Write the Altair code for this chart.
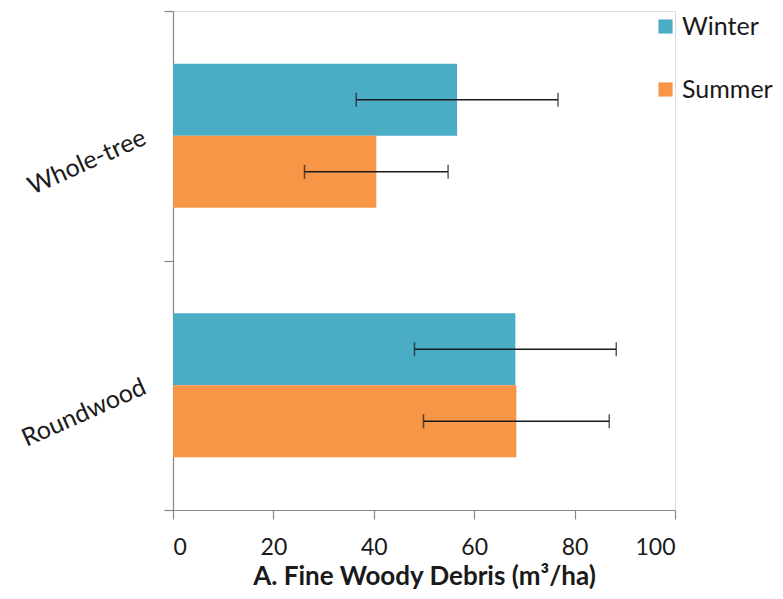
import altair as alt
import pandas as pd

treatments = ["Whole-tree", "Whole-tree", "Roundwood", "Roundwood"]
seasons = ["Winter", "Summer", "Winter", "Summer"]
means = [56.6, 40.5, 68.2, 68.4]
errors = [20.1, 14.3, 20.1, 18.5]
x_ticks = [0, 20, 40, 60, 80, 100]
treat_order = ["Whole-tree", "Roundwood"]
season_order = ["Winter", "Summer"]
season_colors = ["#4BACC6", "#F79646"]

df = pd.DataFrame({"treatment": treatments, "season": seasons, "mean": means, "err": errors})
df["lo"] = df["mean"] - df["err"]
df["hi"] = df["mean"] + df["err"]

FONT = "Lato"
AXIS_COLOR = "#868686"
TEXT = "#1a1a1a"

y_enc = alt.Y(
    "treatment:N",
    sort=treat_order,
    scale=alt.Scale(paddingInner=0, paddingOuter=0),
    axis=alt.Axis(
        title=None, tickBand="extent", labelAngle=-24, labelAlign="right",
        labelBaseline="middle", tickSize=9, labelPadding=20, labelFontSize=25,
        labelFont=FONT, labelColor=TEXT, domainColor=AXIS_COLOR, tickColor=AXIS_COLOR,
        domainWidth=1.2, tickWidth=1.2,
    ),
)
yoff_enc = alt.YOffset("season:N", sort=season_order,
                       scale=alt.Scale(paddingInner=0, paddingOuter=0.731))

x_axis = alt.Axis(
    values=x_ticks, title="A. Fine Woody Debris (m³/ha)", grid=False, tickSize=9,
    labelFontSize=23, labelFont=FONT, labelColor=TEXT, labelPadding=17,
    titleFont=FONT, titleFontSize=26, titleFontWeight="bold", titleColor=TEXT,
    titlePadding=4, domainColor=AXIS_COLOR, tickColor=AXIS_COLOR,
    domainWidth=1.2, tickWidth=1.2,
)
x_scale = alt.Scale(domain=[0, 100], nice=False)

base = alt.Chart(df)

bars = base.mark_bar().encode(
    x=alt.X("mean:Q", scale=x_scale, axis=x_axis),
    y=y_enc,
    yOffset=yoff_enc,
    color=alt.Color(
        "season:N", sort=season_order,
        scale=alt.Scale(domain=season_order, range=season_colors),
        legend=alt.Legend(
            title=None, orient="none", legendX=480, legendY=3, symbolType="square",
            symbolSize=200, symbolStrokeWidth=0, labelFontSize=25, labelFont=FONT,
            labelColor=TEXT, labelOffset=4, rowPadding=37, padding=0,
        ),
    ),
)

rules = base.mark_rule(color="#1a1a1a", strokeWidth=1.5).encode(
    x=alt.X("lo:Q", scale=x_scale), x2="hi:Q", y=y_enc, yOffset=yoff_enc
)
cap_lo = base.mark_tick(color="#1a1a1a", thickness=1.5, size=14, orient="vertical").encode(
    x=alt.X("lo:Q", scale=x_scale), y=y_enc, yOffset=yoff_enc
)
cap_hi = base.mark_tick(color="#1a1a1a", thickness=1.5, size=14, orient="vertical").encode(
    x=alt.X("hi:Q", scale=x_scale), y=y_enc, yOffset=yoff_enc
)

chart = (
    alt.layer(bars, rules, cap_lo, cap_hi)
    .properties(
        width=502, height=499,
        autosize=alt.AutoSizeParams(type="none"),
        padding={"left": 165, "top": 3, "right": 100, "bottom": 81},
    )
    .configure_view(stroke=None)
    .configure(background="white")
)

chart.save("out.html", embed_options={"renderer": "svg", "actions": False})
